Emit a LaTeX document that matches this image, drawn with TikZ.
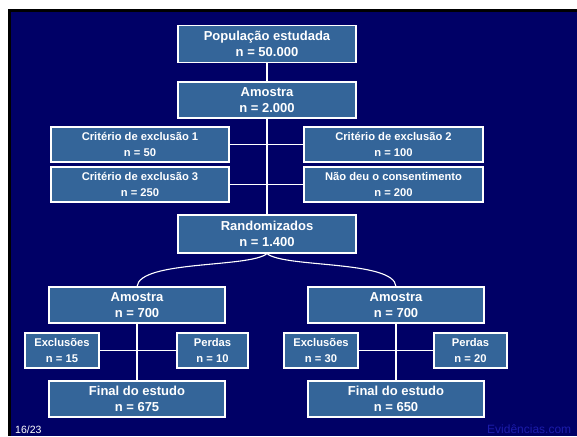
\documentclass[tikz,border=0pt]{standalone}
\usepackage{fontspec}
\setmainfont{Liberation Sans}
\definecolor{navy}{RGB}{0,0,102}
\definecolor{boxblue}{RGB}{52,101,153}
\definecolor{faintblue}{RGB}{28,28,170}
\begin{document}
\begin{tikzpicture}[x=1pt,y=-1pt,
  bigbox/.style={draw=white,line width=1.1pt,fill=boxblue,text=white,align=center,inner sep=0pt,
    font=\fontsize{13}{16}\selectfont\bfseries,minimum width=178pt,minimum height=37pt},
  smallbox/.style={draw=white,line width=1.1pt,fill=boxblue,text=white,align=center,inner sep=0pt,
    font=\fontsize{11.2}{16}\selectfont\bfseries,minimum width=178pt,minimum height=35pt},
  conn/.style={draw=white,line width=1.1pt}]
\useasboundingbox (0,0) rectangle (577,436);
\clip (0,0) rectangle (577,436);
\fill[white] (0,0) rectangle (577,436);
\fill[black] (8,9) rectangle (577,436);
\fill[navy] (11,12) rectangle (577,436);

\node[bigbox] (pop) at (267,44) {População estudada\\n = 50.000};
\node[bigbox,minimum height=36pt] (am) at (267,100) {Amostra\\n = 2.000};
\node[smallbox] (c1) at (140,144.5) {Critério de exclusão 1\\n = 50};
\node[smallbox,minimum width=179pt] (c2) at (393.5,144.5) {Critério de exclusão 2\\n = 100};
\node[smallbox] (c3) at (140,184.5) {Critério de exclusão 3\\n = 250};
\node[smallbox,minimum width=179pt] (c4) at (393.5,184.5) {Não deu o consentimento\\n = 200};
\node[bigbox,minimum height=38pt] (rand) at (267,234) {Randomizados\\n = 1.400};

\node[bigbox,minimum width=176pt,minimum height=36pt] (aL) at (137,305) {Amostra\\n = 700};
\node[bigbox,minimum width=176pt,minimum height=36pt] (aR) at (396,305) {Amostra\\n = 700};
\node[smallbox,minimum width=74pt] (exL) at (62,350.5) {Exclusões\\n = 15};
\node[smallbox,minimum width=71pt] (peL) at (212.5,350.5) {Perdas\\n = 10};
\node[smallbox,minimum width=74pt] (exR) at (321,350.5) {Exclusões\\n = 30};
\node[smallbox,minimum width=73pt] (peR) at (470.5,350.5) {Perdas\\n = 20};
\node[bigbox,minimum width=176pt,minimum height=36pt] (fL) at (137,399) {Final do estudo\\n = 675};
\node[bigbox,minimum width=176pt,minimum height=36pt] (fR) at (396,399) {Final do estudo\\n = 650};

\draw[conn] (pop.south) -- (am.north);
\draw[conn] (am.south) -- (rand.north);
\draw[conn] (c1.east) -- (c2.west);
\draw[conn] (c3.east) -- (c4.west);
\draw[conn] (rand.south) .. controls (250,268) and (140,260) .. (aL.north);
\draw[conn] (rand.south) .. controls (284,268) and (394,260) .. (aR.north);
\draw[conn] (aL.south) -- (fL.north);
\draw[conn] (exL.east) -- (peL.west);
\draw[conn] (aR.south) -- (fR.north);
\draw[conn] (exR.east) -- (peR.west);

\node[text=white,font=\fontsize{10.5}{12}\selectfont,anchor=base west,inner sep=0pt] (pg) at (15,433.5) {16/23};
\node[text=faintblue,font=\fontsize{12}{14}\selectfont,anchor=base west,inner sep=0pt] (ev) at (487,433) {Evidências.com};
\end{tikzpicture}
\end{document}
